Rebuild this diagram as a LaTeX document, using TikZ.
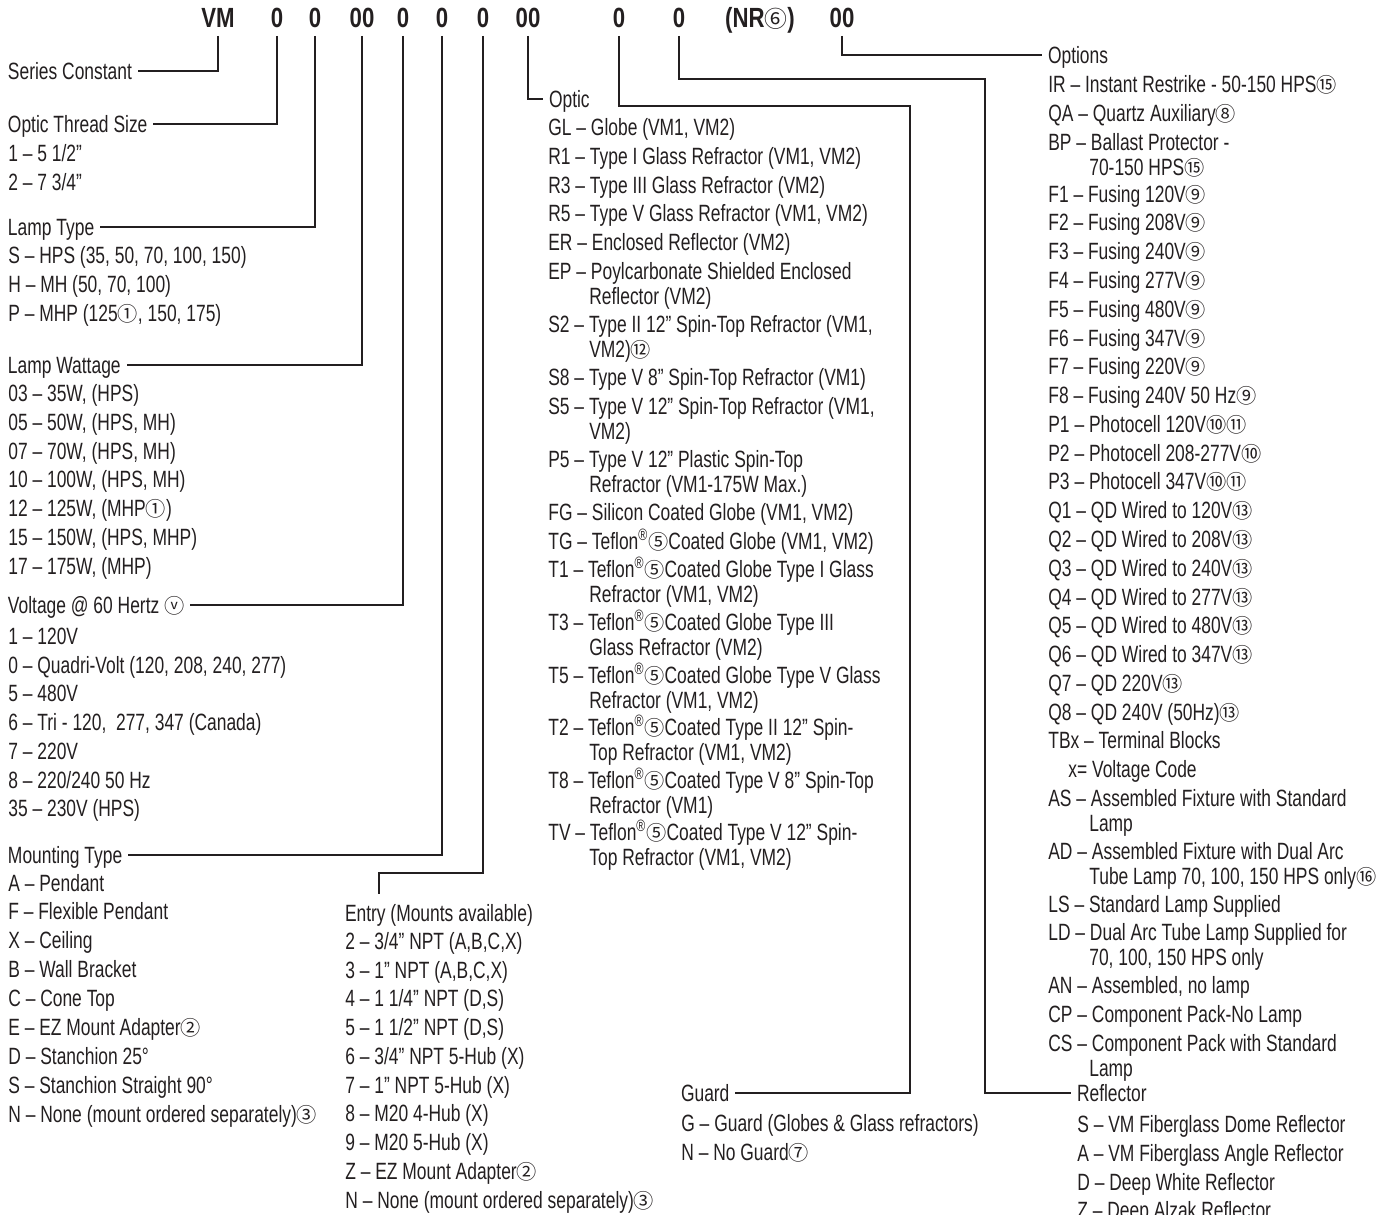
\documentclass[tikz,border=0pt]{standalone}
\usepackage{fontspec}
\setmainfont{Liberation Sans}[FakeStretch=0.74]
\newfontfamily\hdfont{Liberation Sans}[FakeStretch=0.8]
\newfontfamily\circfont{Noto Sans CJK SC}
\usetikzlibrary{positioning}
\definecolor{ink}{RGB}{35,31,32}
\newcommand{\cn}[1]{{\circfont\fontsize{11.5}{14}\selectfont #1}}
\newcommand{\two}[2]{\begin{tabular}[t]{@{}l@{}}#1\\\hspace*{0.82cm}#2\end{tabular}}
\newcommand{\tef}{Teflon\textsuperscript{®}\cn{⑤}}

\begin{document}
\begin{tikzpicture}[
  x=0.02cm, y=-0.02cm,
  font=\fontsize{13.4}{14}\selectfont, text=ink,
  code/.style={font=\hdfont\bfseries\fontsize{15.8}{18}\selectfont, inner sep=0pt,
               outer ysep=0.16cm, text height=11.3pt, text depth=0pt},
  hd/.style={anchor=west, inner sep=0pt, outer xsep=0.12cm, outer ysep=0.22cm,
             xshift=-0.12cm, text height=9.6pt, text depth=0pt},
  it/.style={anchor=west, inner sep=0pt, text height=9.6pt, text depth=0pt},
  conn/.style={draw=ink, line width=1.5pt}
]
\useasboundingbox (0,0) rectangle (1385,1214);

% ---------- ordering code ----------
\node[code] (hVM)     at (218,18) {VM};
\node[code] (hThread) at (277,18) {0};
\node[code] (hType)   at (315,18) {0};
\node[code] (hWatt)   at (362,18) {00};
\node[code] (hVolt)   at (403,18) {0};
\node[code] (hMount)  at (442,18) {0};
\node[code] (hEntry)  at (483,18) {0};
\node[code] (hOptic)  at (528,18) {00};
\node[code] (hGuard)  at (619,18) {0};
\node[code] (hRefl)   at (679,18) {0};
\node[code] (hNR)     at (760,18) {(NR{\circfont\mdseries\fontsize{13}{16}\selectfont ⑥})};
\node[code] (hOpts)   at (842,18) {00};

% ---------- left column ----------
\node[hd] (series) at (8,71) {Series Constant};

\node[hd] (thread) at (8,124) {Optic Thread Size};
\foreach \y/\t [count=\i] in {153/{1 – 5 1/2”}, 182/{2 – 7 3/4”}}
  \node[it] (thread\i) at (8,\y) {\t};

\node[hd] (ltype) at (8,227) {Lamp Type};
\foreach \y/\t [count=\i] in {255/{S – HPS (35, 50, 70, 100, 150)},
    284/{H – MH (50, 70, 100)}, 313/{P – MHP (125\cn{①}, 150, 175)}}
  \node[it] (ltype\i) at (8,\y) {\t};

\node[hd] (watt) at (8,365) {Lamp Wattage};
\foreach \y/\t [count=\i] in {393/{03 – 35W, (HPS)}, 422/{05 – 50W, (HPS, MH)},
    451/{07 – 70W, (HPS, MH)}, 479/{10 – 100W, (HPS, MH)},
    508/{12 – 125W, (MHP\cn{①})}, 537/{15 – 150W, (HPS, MHP)},
    566/{17 – 175W, (MHP)}}
  \node[it] (watt\i) at (8,\y) {\t};

\node[hd] (volt) at (8,605) {Voltage @ 60 Hertz \cn{ⓥ}};
\foreach \y/\t [count=\i] in {636/{1 – 120V}, 665/{0 – Quadri-Volt (120, 208, 240, 277)},
    693/{5 – 480V}, 722/{6 – Tri - 120,\ \ 277, 347 (Canada)}, 751/{7 – 220V},
    780/{8 – 220/240 50 Hz}, 808/{35 – 230V (HPS)}}
  \node[it] (volt\i) at (8,\y) {\t};

\node[hd] (mount) at (8,855) {Mounting Type};
\foreach \y/\t [count=\i] in {883/{A – Pendant}, 911/{F – Flexible Pendant},
    940/{X – Ceiling}, 969/{B – Wall Bracket}, 998/{C – Cone Top},
    1027/{E – EZ Mount Adapter\cn{②}}, 1056/{D – Stanchion 25°},
    1085/{S – Stanchion Straight 90°},
    1114/{N – None (mount ordered separately)\cn{③}}}
  \node[it] (mount\i) at (8,\y) {\t};

% ---------- entry ----------
\node[hd] (entry) at (345,913) {Entry (Mounts available)};
\foreach \y/\t [count=\i] in {941/{2 – 3/4” NPT (A,B,C,X)}, 970/{3 – 1” NPT (A,B,C,X)},
    998/{4 – 1 1/4” NPT (D,S)}, 1027/{5 – 1 1/2” NPT (D,S)},
    1056/{6 – 3/4” NPT 5-Hub (X)}, 1085/{7 – 1” NPT 5-Hub (X)},
    1113/{8 – M20 4-Hub (X)}, 1142/{9 – M20 5-Hub (X)},
    1171/{Z – EZ Mount Adapter\cn{②}},
    1200/{N – None (mount ordered separately)\cn{③}}}
  \node[it] (entry\i) at (345,\y) {\t};

% ---------- optic ----------
\node[hd] (optic) at (549,99) {Optic};
\foreach \y/\t [count=\i] in {127/{GL – Globe (VM1, VM2)},
    156/{R1 – Type I Glass Refractor (VM1, VM2)},
    185/{R3 – Type III Glass Refractor (VM2)},
    213/{R5 – Type V Glass Refractor (VM1, VM2)},
    242/{ER – Enclosed Reflector (VM2)},
    271/{\two{EP – Poylcarbonate Shielded Enclosed}{Reflector (VM2)}},
    324/{\two{S2 – Type II 12” Spin-Top Refractor (VM1,}{VM2)\cn{⑫}}},
    377/{S8 – Type V 8” Spin-Top Refractor (VM1)},
    406/{\two{S5 – Type V 12” Spin-Top Refractor (VM1,}{VM2)}},
    459/{\two{P5 – Type V 12” Plastic Spin-Top}{Refractor (VM1-175W Max.)}},
    512/{FG – Silicon Coated Globe (VM1, VM2)},
    541/{TG – \tef Coated Globe (VM1, VM2)},
    569/{\two{T1 – \tef Coated Globe Type I Glass}{Refractor (VM1, VM2)}},
    622/{\two{T3 – \tef Coated Globe Type III}{Glass Refractor (VM2)}},
    675/{\two{T5 – \tef Coated Globe Type V Glass}{Refractor (VM1, VM2)}},
    727/{\two{T2 – \tef Coated Type II 12” Spin-}{Top Refractor (VM1, VM2)}},
    780/{\two{T8 – \tef Coated Type V 8” Spin-Top}{Refractor (VM1)}},
    832/{\two{TV – \tef Coated Type V 12” Spin-}{Top Refractor (VM1, VM2)}}}
  \node[it] (optic\i) at (548,\y) {\t};

% ---------- guard ----------
\node[hd] (guard) at (681,1093) {Guard};
\node[it] (guard1) at (681,1123) {G – Guard (Globes \& Glass refractors)};
\node[it] (guard2) at (681,1152) {N – No Guard\cn{⑦}};

% ---------- options ----------
\node[hd] (opts) at (1048,55) {Options};
\foreach \y/\t [count=\i] in {84/{IR – Instant Restrike - 50-150 HPS\cn{⑮}},
    113/{QA – Quartz Auxiliary\cn{⑧}},
    142/{\two{BP – Ballast Protector -}{70-150 HPS\cn{⑮}}},
    194/{F1 – Fusing 120V\cn{⑨}}, 222/{F2 – Fusing 208V\cn{⑨}},
    251/{F3 – Fusing 240V\cn{⑨}}, 280/{F4 – Fusing 277V\cn{⑨}},
    309/{F5 – Fusing 480V\cn{⑨}}, 338/{F6 – Fusing 347V\cn{⑨}},
    366/{F7 – Fusing 220V\cn{⑨}}, 395/{F8 – Fusing 240V 50 Hz\cn{⑨}},
    424/{P1 – Photocell 120V\cn{⑩⑪}}, 453/{P2 – Photocell 208-277V\cn{⑩}},
    481/{P3 – Photocell 347V\cn{⑩⑪}},
    510/{Q1 – QD Wired to 120V\cn{⑬}}, 539/{Q2 – QD Wired to 208V\cn{⑬}},
    568/{Q3 – QD Wired to 240V\cn{⑬}}, 597/{Q4 – QD Wired to 277V\cn{⑬}},
    625/{Q5 – QD Wired to 480V\cn{⑬}}, 654/{Q6 – QD Wired to 347V\cn{⑬}},
    683/{Q7 – QD 220V\cn{⑬}}, 712/{Q8 – QD 240V (50Hz)\cn{⑬}},
    740/{TBx – Terminal Blocks}, 769/{\hspace*{0.4cm}x= Voltage Code},
    798/{\two{AS – Assembled Fixture with Standard}{Lamp}},
    851/{\two{AD – Assembled Fixture with Dual Arc}{Tube Lamp 70, 100, 150 HPS only\cn{⑯}}},
    904/{LS – Standard Lamp Supplied},
    932/{\two{LD – Dual Arc Tube Lamp Supplied for}{70, 100, 150 HPS only}},
    985/{AN – Assembled, no lamp}, 1014/{CP – Component Pack-No Lamp},
    1043/{\two{CS – Component Pack with Standard}{Lamp}}}
  \node[it] (opts\i) at (1048,\y) {\t};

% ---------- reflector ----------
\node[hd] (refl) at (1077,1093) {Reflector};
\foreach \y/\t [count=\i] in {1124/{S – VM Fiberglass Dome Reflector},
    1153/{A – VM Fiberglass Angle Reflector}, 1182/{D – Deep White Reflector},
    1210/{Z – Deep Alzak Reflector}}
  \node[it] (refl\i) at (1077,\y) {\t};

% ---------- connectors ----------
\coordinate (kEntry) at (379,873);
\coordinate (kGuard) at (910,106);
\coordinate (kRefl)  at (985,79);

\draw[conn] (hVM.south) |- (series.east);
\draw[conn] (hThread.south) |- (thread.east);
\draw[conn] (hType.south) |- (ltype.east);
\draw[conn] (hWatt.south) |- (watt.east);
\draw[conn] (hVolt.south) |- (volt.east);
\draw[conn] (hMount.south) |- (mount.east);
\draw[conn] (hEntry.south) |- (kEntry) -- (kEntry |- entry.north);
\draw[conn] (hOptic.south) |- (optic.west);
\draw[conn] (hGuard.south) |- (kGuard) |- (guard.east);
\draw[conn] (hRefl.south) |- (kRefl) |- (refl.west);
\draw[conn] (hOpts.south) |- (opts.west);

\end{tikzpicture}
\end{document}
